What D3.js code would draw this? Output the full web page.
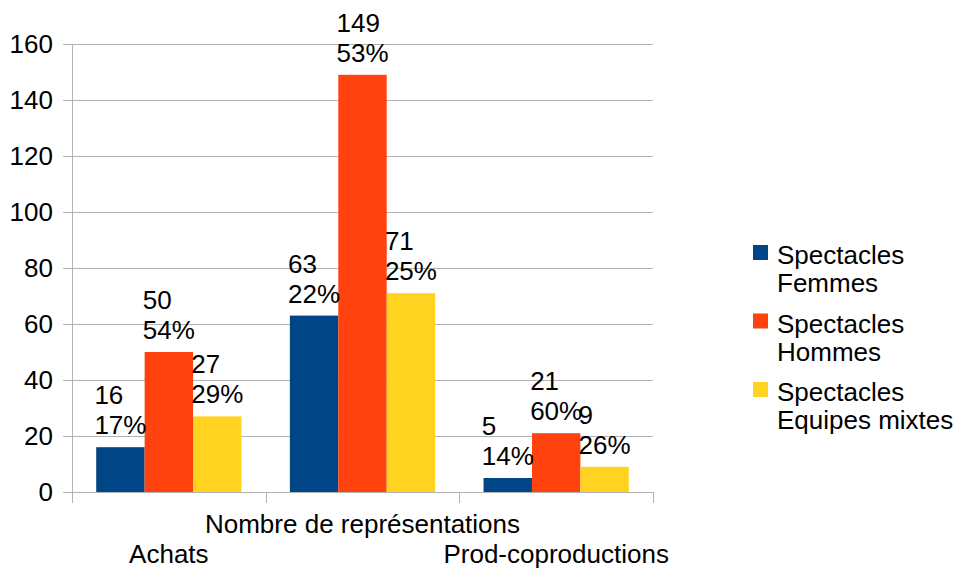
<!DOCTYPE html>
<html><head><meta charset="utf-8">
<script src="https://cdn.jsdelivr.net/npm/d3@7"></script>
<style>body{margin:0;background:#fff}svg{display:block}text{font-family:"Liberation Sans",Arial,sans-serif;fill:#000}</style>
</head><body>
<svg id="c" width="959" height="569"></svg>
<script>
const categories = ["Achats", "Nombre de représentations", "Prod-coproductions"];
const seriesNames = ["Spectacles Femmes", "Spectacles Hommes", "Spectacles Equipes mixtes"];
const legendLines = [["Spectacles","Femmes"],["Spectacles","Hommes"],["Spectacles","Equipes mixtes"]];
const femmes = [16, 63, 5];
const hommes = [50, 149, 21];
const mixtes = [27, 71, 9];
const percents = [["17%","22%","14%"],["54%","53%","60%"],["29%","25%","26%"]];
const yTicks = [0,20,40,60,80,100,120,140,160];
const colors = ["#004586","#ff420e","#ffd320"];
const series = [femmes, hommes, mixtes];

const svg = d3.select("#c");
const fs = 26;
const L = 72, R = 653, T = 44, B = 492;
const y = d3.scaleLinear().domain([0,160]).range([B,T]);
const x0 = d3.scaleBand().domain(categories).range([L,R]).paddingInner(0).paddingOuter(0);
const x1 = d3.scaleBand().domain(d3.range(3)).range([0,x0.bandwidth()]).paddingInner(0).paddingOuter(0.5);

// grid
svg.append("g").selectAll("line").data(yTicks).join("line")
  .attr("x1",L-9).attr("x2",R).attr("y1",d=>y(d)+0.5).attr("y2",d=>y(d)+0.5)
  .attr("stroke","#b3b3b3").attr("stroke-width",1);
// y axis line
svg.append("line").attr("x1",L+0.5).attr("x2",L+0.5).attr("y1",T).attr("y2",B+11).attr("stroke","#b3b3b3");
// category ticks
const catEdges = categories.map(c=>x0(c)).concat([R]);
svg.append("g").selectAll("line").data(catEdges).join("line")
  .attr("x1",d=>Math.round(d)+0.5).attr("x2",d=>Math.round(d)+0.5).attr("y1",B).attr("y2",B+11).attr("stroke","#b3b3b3");
// y labels
svg.append("g").selectAll("text").data(yTicks).join("text")
  .attr("x",L-19).attr("y",d=>y(d)+9).attr("text-anchor","end").attr("font-size",fs).text(d=>d);

// bars
series.forEach((s,si)=>{
  svg.append("g").selectAll("rect").data(s).join("rect")
    .attr("x",(d,i)=>x0(categories[i])+x1(si))
    .attr("width",x1.bandwidth())
    .attr("y",d=>y(d)).attr("height",d=>B-y(d))
    .attr("fill",colors[si]);
});
// labels
series.forEach((s,si)=>{
  s.forEach((v,i)=>{
    const bx = x0(categories[i])+x1(si), bw = x1.bandwidth();
    const g = svg.append("g");
    const t1 = g.append("text").attr("font-size",fs).attr("y",y(v)-43).text(v);
    const t2 = g.append("text").attr("font-size",fs).attr("y",y(v)-13).text(percents[si][i]);
    const w = Math.max(t1.node().getComputedTextLength(), t2.node().getComputedTextLength());
    const lx = bx + bw/2 - w/2;
    t1.attr("x",lx); t2.attr("x",lx);
  });
});
// category labels staggered
categories.forEach((c,i)=>{
  svg.append("text").attr("x",x0(c)+x0.bandwidth()/2).attr("y",i%2===1?533:563)
    .attr("text-anchor","middle").attr("font-size",fs).text(c);
});
// legend
legendLines.forEach((lines,i)=>{
  const top = 245 + i*68.5;
  svg.append("rect").attr("x",753).attr("y",top).attr("width",15).attr("height",15).attr("fill",colors[i]);
  lines.forEach((ln,j)=>{
    svg.append("text").attr("x",777).attr("y",top+19+j*28).attr("font-size",fs).text(ln);
  });
});
</script>
</body></html>
